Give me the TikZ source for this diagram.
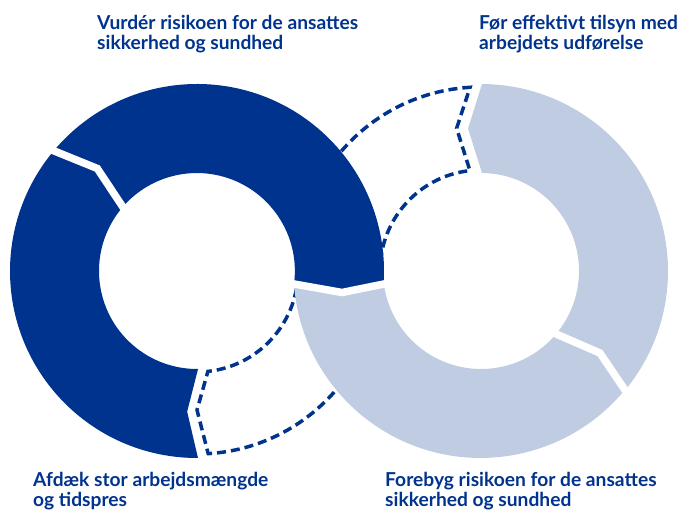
\documentclass[tikz,border=0pt]{standalone}
\usepackage{fontspec}
\setmainfont{Lato}
\usetikzlibrary{calc}
\definecolor{ringblue}{RGB}{0,51,141}
\definecolor{ringlight}{RGB}{192,204,225}

\begin{document}
\begin{tikzpicture}[x=1pt, y=1pt]
	\tikzstyle{darkpart} = [fill=ringblue]
	\tikzstyle{lightpart} = [fill=ringlight]
	\tikzstyle{dashring} = [draw=ringblue, line width=3.5pt, dash pattern=on 9pt off 5pt]
	\tikzstyle{gapline} = [draw=white, line width=7.5pt, shorten >= -5pt, shorten <= -5pt]
	\tikzstyle{caption} = [anchor=base west, inner sep=0pt, align=left, text=ringblue, font=\fontsize{19.2}{20}\selectfont\bfseries]
	\useasboundingbox (0,0) rectangle (682,510);
	\coordinate (L) at (197,239);
	\coordinate (R) at (481,239);
	\coordinate (P1) at (294,226);
	\coordinate (P2) at (342,217.5);
	\coordinate (P3) at (384,226);
	% the two open parts, partly hidden by the rings
	\draw[dashring, shift={(L)}] (-2:183) arc[start angle=-2, end angle=-86.5, radius=183] -- (-90:139) -- (-83.8:101) arc[start angle=-83.8, end angle=-2, radius=101];
	\draw[dashring, shift={(R)}] (183:184) arc[start angle=183, end angle=93.4, radius=184] -- (99.7:144.8) -- (96.3:101) arc[start angle=96.3, end angle=183, radius=101];
	% left ring
	\fill[darkpart, shift={(L)}] (270.3:187) arc[start angle=270.3, end angle=140, radius=187] -- (134.2:143) -- (139.2:98) arc[start angle=139.2, end angle=270.6, radius=98] -- (266:141) -- cycle;
	\fill[darkpart, shift={(L)}] (140:187) arc[start angle=140, end angle=-4, radius=187] -- (P2) -- (P1) arc[start angle=-7.6, end angle=139.2, radius=98] -- (134.2:143) -- cycle;
	% right ring
	\fill[lightpart, shift={(R)}] (P1) arc[start angle=184, end angle=320.4, radius=187] -- (325.4:144.5) -- (320:98) arc[start angle=320, end angle=187.6, radius=98] -- (P2) -- cycle;
	\fill[lightpart, shift={(R)}] (320.4:187) arc[start angle=320.4, end angle=449.7, radius=187] -- (455.2:143) -- (449.4:98) arc[start angle=449.4, end angle=320, radius=98] -- (325.4:144.5) -- cycle;
	% white gaps
	\draw[gapline, shift={(L)}] (140:187) -- (134.2:143) -- (139.2:98);
	\draw[gapline] (P1) -- (P2) -- (P3);
	\draw[gapline, shift={(R)}] (320.4:187) -- (325.4:144.5) -- (320:98);
	% texts (base = last line)
	\node[caption] (assess) at (97,460) {Vurdér risikoen for de ansattes\\sikkerhed og sundhed};
	\node[caption] (supervise) at (479,460) {Før effektivt tilsyn med\\arbejdets udførelse};
	\node[caption] (workload) at (33,3) {Afdæk stor arbejdsmængde\\og tidspres};
	\node[caption] (prevent) at (385,3) {Forebyg risikoen for de ansattes\\sikkerhed og sundhed};
\end{tikzpicture}
\end{document}
